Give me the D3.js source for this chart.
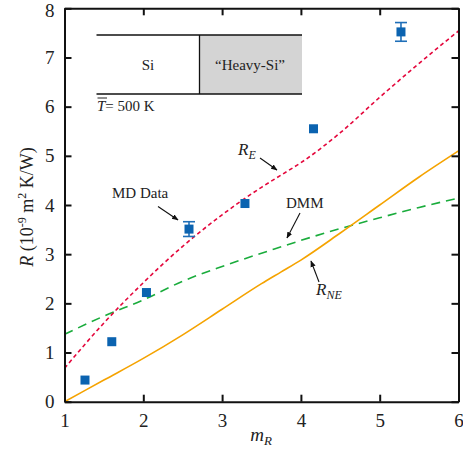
<!DOCTYPE html>
<html><head><meta charset="utf-8">
<script src="https://cdn.jsdelivr.net/npm/d3@7"></script>
<style>body{margin:0;background:#fff}svg{display:block}</style>
</head><body><svg id="c" width="463" height="452"></svg>
<script>
const mdX = [1.26, 1.60, 2.04, 2.58, 3.29, 4.16, 5.27];
const mdY = [0.44, 1.22, 2.22, 3.51, 4.03, 5.55, 7.52];
const mdErr = [0, 0, 0, 0.15, 0, 0, 0.19];
const curveX = [1, 1.5, 2, 2.5, 3, 3.5, 3.75, 4, 4.5, 5, 5.5, 6];
const rE   = [0.68, 1.60, 2.42, 3.16, 3.80, 4.36, 4.61, 4.86, 5.47, 6.19, 6.88, 7.54];
const rNE  = [0.00, 0.44, 0.88, 1.36, 1.88, 2.40, 2.64, 2.88, 3.43, 4.00, 4.57, 5.10];
const dmm  = [1.37, 1.74, 2.07, 2.45, 2.75, 3.02, 3.15, 3.28, 3.52, 3.74, 3.95, 4.14];
const xTicks = [1, 2, 3, 4, 5, 6];
const yTicks = [0, 1, 2, 3, 4, 5, 6, 7, 8];

const FF = '"Liberation Serif", "Times New Roman", Tinos, "DejaVu Serif", serif';
const svg = d3.select("#c").style("font-family", FF);
const L = 64.5, R = 458.5, T = 8.3, B = 401.7;
const x = d3.scaleLinear().domain([1, 6]).range([L, R]);
const y = d3.scaleLinear().domain([0, 8]).range([B, T]);
const txt = (sel) => sel.append("text").style("font-family", FF).attr("fill", "#222");

// inset diagram
const g0 = svg.append("g");
g0.append("rect").attr("x", 199.5).attr("y", 35).attr("width", 102.5).attr("height", 59).attr("fill", "#d4d4d4");
g0.append("line").attr("x1", 96.5).attr("x2", 302).attr("y1", 35).attr("y2", 35).attr("stroke", "#111").attr("stroke-width", 1.3);
g0.append("line").attr("x1", 96.5).attr("x2", 302).attr("y1", 94).attr("y2", 94).attr("stroke", "#111").attr("stroke-width", 1.3);
g0.append("line").attr("x1", 199.5).attr("x2", 199.5).attr("y1", 35).attr("y2", 94).attr("stroke", "#111").attr("stroke-width", 1.3);
txt(g0).attr("x", 148).attr("y", 70).attr("text-anchor", "middle").attr("font-size", 15).text("Si");
txt(g0).attr("x", 250).attr("y", 70).attr("text-anchor", "middle").attr("font-size", 15).text("\u201cHeavy-Si\u201d");
const tt = txt(g0).attr("x", 97).attr("y", 111).attr("font-size", 15);
tt.append("tspan").attr("font-style", "italic").text("T");
tt.append("tspan").text("= 500 K");
g0.append("line").attr("x1", 97.5).attr("x2", 107).attr("y1", 98).attr("y2", 98).attr("stroke", "#222").attr("stroke-width", 1);

// curves
const line = (vals) => d3.line().x((d, i) => x(curveX[i])).y((d) => y(d)).curve(d3.curveMonotoneX)(vals);
svg.append("path").attr("d", line(dmm)).attr("fill", "none").attr("stroke", "#1aac3c").attr("stroke-width", 1.6).attr("stroke-dasharray", "9,6");
svg.append("path").attr("d", line(rNE)).attr("fill", "none").attr("stroke", "#f5a300").attr("stroke-width", 1.6);
svg.append("path").attr("d", line(rE)).attr("fill", "none").attr("stroke", "#e4073c").attr("stroke-width", 1.6).attr("stroke-dasharray", "4,3");

// MD data
const gm = svg.append("g");
mdX.forEach((xv, i) => {
  if (mdErr[i] > 0) {
    const cx = x(xv);
    gm.append("line").attr("x1", cx).attr("x2", cx).attr("y1", y(mdY[i] - mdErr[i])).attr("y2", y(mdY[i] + mdErr[i])).attr("stroke", "#1f6fb8").attr("stroke-width", 1.6);
    [mdY[i] - mdErr[i], mdY[i] + mdErr[i]].forEach(v => gm.append("line").attr("x1", cx - 6).attr("x2", cx + 6).attr("y1", y(v)).attr("y2", y(v)).attr("stroke", "#1f6fb8").attr("stroke-width", 1.6));
  }
  gm.append("rect").attr("x", x(xv) - 4.5).attr("y", y(mdY[i]) - 4.5).attr("width", 9).attr("height", 9).attr("fill", "#0b63b0");
});

// axes
const fmt = d3.format("d");
const axB = svg.append("g").attr("transform", `translate(0,${B})`).call(d3.axisBottom(x).tickValues(xTicks).tickFormat(fmt).tickSizeInner(-7).tickSizeOuter(0).tickPadding(12));
const axL = svg.append("g").attr("transform", `translate(${L},0)`).call(d3.axisLeft(y).tickValues(yTicks).tickFormat(fmt).tickSizeInner(-7).tickSizeOuter(0).tickPadding(10));
const axT = svg.append("g").attr("transform", `translate(0,${T})`).call(d3.axisTop(x).tickValues(xTicks).tickSizeInner(-7).tickSizeOuter(0).tickFormat(""));
const axR = svg.append("g").attr("transform", `translate(${R},0)`).call(d3.axisRight(y).tickValues(yTicks).tickSizeInner(-7).tickSizeOuter(0).tickFormat(""));
[axB, axL, axT, axR].forEach(a => {
  a.attr("font-family", null);
  a.select(".domain").attr("stroke", "#111").attr("stroke-width", 2);
  a.selectAll(".tick line").attr("stroke", "#111").attr("stroke-width", 2);
  a.selectAll(".tick text").attr("font-size", 19).style("font-family", FF).attr("fill", "#222");
});
axL.selectAll(".tick text").filter(d => d === 8).attr("dy", "0.45em");

// axis titles
const xl = txt(svg).attr("x", 261).attr("y", 441).attr("text-anchor", "middle").attr("font-size", 19);
xl.append("tspan").attr("font-style", "italic").text("m");
xl.append("tspan").attr("font-style", "italic").attr("font-size", 13).attr("dy", 4).text("R");

const yl = txt(svg).attr("transform", "translate(33,207) rotate(-90)").attr("text-anchor", "middle").attr("font-size", 18);
yl.append("tspan").attr("font-style", "italic").text("R");
yl.append("tspan").text(" (10");
yl.append("tspan").attr("font-size", 12).attr("dy", -7).text("-9");
yl.append("tspan").attr("dy", 7).text(" m");
yl.append("tspan").attr("font-size", 12).attr("dy", -7).text("2");
yl.append("tspan").attr("dy", 7).text(" K/W)");

// annotations
svg.append("defs").append("marker").attr("id", "ah").attr("viewBox", "0 0 10 10").attr("refX", 9).attr("refY", 5)
  .attr("markerWidth", 6).attr("markerHeight", 6).attr("orient", "auto")
  .append("path").attr("d", "M0,1 L10,5 L0,9 z").attr("fill", "#111");
const arrow = (x1, y1, x2, y2) => svg.append("line").attr("x1", x1).attr("y1", y1).attr("x2", x2).attr("y2", y2).attr("stroke", "#111").attr("stroke-width", 1.1).attr("marker-end", "url(#ah)");

txt(svg).attr("x", 112).attr("y", 198).attr("font-size", 15).text("MD Data");
arrow(158, 206.5, 178, 220);

const re = txt(svg).attr("x", 238).attr("y", 155).attr("font-size", 17).attr("font-style", "italic");
re.append("tspan").text("R");
re.append("tspan").attr("font-size", 12).attr("dy", 4).text("E");
arrow(260, 158, 277, 170);

txt(svg).attr("x", 286).attr("y", 208).attr("font-size", 15).text("DMM");
arrow(300, 213, 287, 238);

const rn = txt(svg).attr("x", 316).attr("y", 295).attr("font-size", 17).attr("font-style", "italic");
rn.append("tspan").text("R");
rn.append("tspan").attr("font-size", 12).attr("dy", 4).text("NE");
arrow(319, 282, 311, 261);
</script></body></html>
